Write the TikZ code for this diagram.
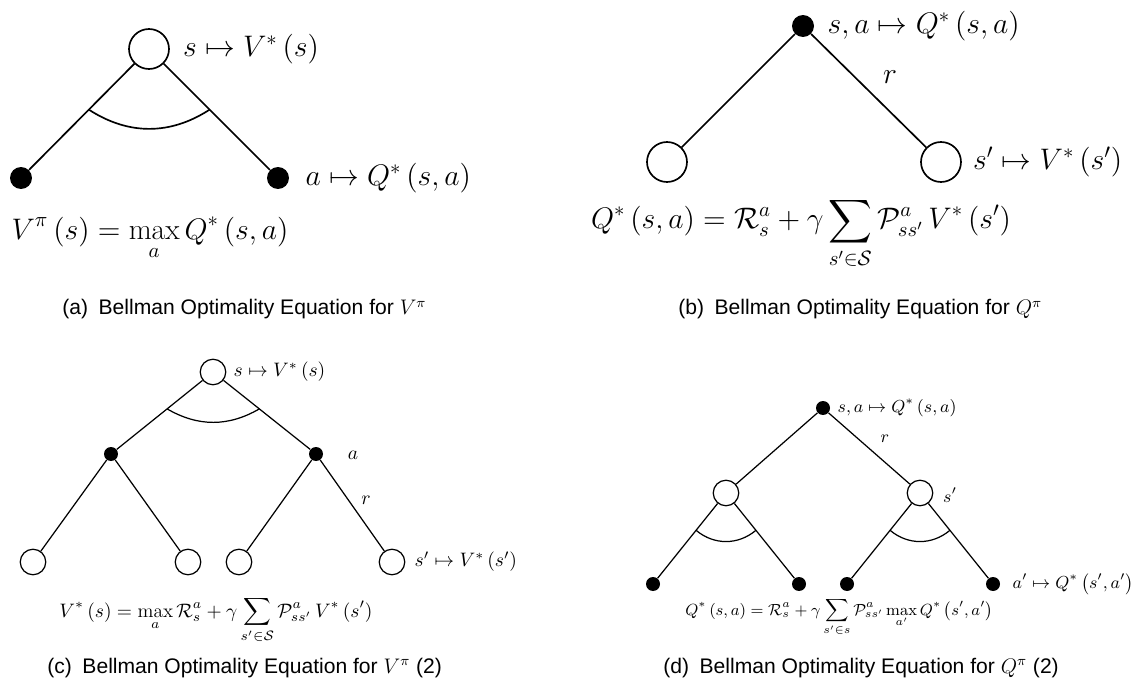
\documentclass[tikz,border=0pt]{standalone}
\usepackage{fix-cm}
\usepackage{amsmath}
\usepackage{fontspec}
\usepackage{tikz}
\usetikzlibrary{positioning, calc}
\newfontfamily\capfont{Liberation Sans}

\begin{document}
\begin{tikzpicture}[
        x=0.02cm, y=-0.02cm,
        every node/.style={
            inner sep=0pt
        },
        grande/.style={
            font=\fontsize{16.9}{20}\selectfont
        },
        pequeno/.style={
            font=\fontsize{11.1}{13}\selectfont
        },
        menor/.style={
            font=\fontsize{9.9}{12}\selectfont
        },
        vgrande/.style={
            circle,
            draw,
            fill=white,
            line width=0.95pt,
            minimum size=0.8cm
        },
        qgrande/.style={
            circle,
            fill=black,
            minimum size=0.44cm
        },
        vpequeno/.style={
            circle,
            draw,
            fill=white,
            line width=0.7pt,
            minimum size=0.51cm
        },
        qpequeno/.style={
            circle,
            fill=black,
            minimum size=0.28cm
        },
        linhag/.style={
            line width=0.95pt
        },
        linhap/.style={
            line width=0.7pt
        },
        legenda/.style={
            anchor=base west,
            font=\capfont\fontsize{12}{14}\selectfont
        }
    ]

    \useasboundingbox (0,0) rectangle (1137,679);

    % (a)
    \node[vgrande] (a0) at (149,49) {};
    \node[qgrande] (a1) at (21,178) {};
    \node[qgrande] (a2) at (278,178) {};

    \node[grande, right=0.26cm of a0] (la0) {$s \mapsto V^*\left(s\right)$};
    \node[grande, right=0.32cm of a2] (la2) {$a \mapsto Q^*\left(s,a\right)$};

    \node[grande, anchor=base] (eqa) at (150,239) {$\displaystyle V^\pi\left(s\right) = \max_a Q^*\left(s,a\right)$};

    \node[legenda] (capa) at (62,315) {(a)\enspace Bellman Optimality Equation for $V^\pi$};

    \draw[linhag] (a0) -- (a1);
    \draw[linhag] (a0) -- (a2);
    \draw[linhag] ($(a0)!0.47!(a1)$) to[bend right=33] ($(a0)!0.47!(a2)$);

    % (b)
    \node[qgrande] (b0) at (803,26) {};
    \node[vgrande] (b1) at (667,162) {};
    \node[vgrande] (b2) at (941,162) {};

    \node[grande, right=0.26cm of b0] (lb0) {$s, a \mapsto Q^*\left(s,a\right)$};
    \node[grande, right=0.22cm of b2] (lb2) {$s' \mapsto V^*\left(s'\right)$};
    \node[grande] (rb) at (890,77) {$r$};

    \node[grande, anchor=base] (eqb) at (801,229) {$\displaystyle Q^*\left(s,a\right) = \mathcal{R}^a_s + \gamma \sum_{s'\in\mathcal{S}} \mathcal{P}^a_{ss'}\, V^*\left(s'\right)$};

    \node[legenda] (capb) at (678,315) {(b)\enspace Bellman Optimality Equation for $Q^\pi$};

    \draw[linhag] (b0) -- (b1);
    \draw[linhag] (b0) -- (b2);

    % (c)
    \node[vpequeno] (c0) at (213,372) {};
    \node[qpequeno] (c1) at (111,454) {};
    \node[qpequeno] (c2) at (316,454) {};
    \node[vpequeno] (c3) at (33,562) {};
    \node[vpequeno] (c4) at (188,562) {};
    \node[vpequeno] (c5) at (239,562) {};
    \node[vpequeno] (c6) at (392,562) {};

    \node[pequeno, right=0.14cm of c0] (lc0) {$s \mapsto V^*\left(s\right)$};
    \node[pequeno, right=0.18cm of c6] (lc6) {$s' \mapsto V^*\left(s'\right)$};
    \node[pequeno] (ac) at (353,455) {$a$};
    \node[pequeno] (rc) at (366,500) {$r$};

    \node[pequeno, anchor=base] (eqc) at (216,617) {$\displaystyle V^*\left(s\right) = \max_a \mathcal{R}^a_s + \gamma \sum_{s'\in\mathcal{S}} \mathcal{P}^a_{ss'}\, V^*\left(s'\right)$};

    \node[legenda] (capc) at (47,673) {(c)\enspace Bellman Optimality Equation for $V^\pi$ (2)};

    \draw[linhap] (c0) -- (c1);
    \draw[linhap] (c0) -- (c2);
    \draw[linhap] (c1) -- (c3);
    \draw[linhap] (c1) -- (c4);
    \draw[linhap] (c2) -- (c5);
    \draw[linhap] (c2) -- (c6);
    \draw[linhap] ($(c0)!0.45!(c1)$) to[bend right=30] ($(c0)!0.45!(c2)$);

    % (d)
    \node[qpequeno] (d0) at (823,408) {};
    \node[vpequeno] (d1) at (726,493) {};
    \node[vpequeno] (d2) at (920,493) {};
    \node[qpequeno] (d3) at (653,584) {};
    \node[qpequeno] (d4) at (799,584) {};
    \node[qpequeno] (d5) at (847,584) {};
    \node[qpequeno] (d6) at (993,584) {};

    \node[menor, right=0.14cm of d0] (ld0) {$s, a \mapsto Q^*\left(s,a\right)$};
    \node[menor, right=0.24cm of d6] (ld6) {$a' \mapsto Q^*\left(s',a'\right)$};
    \node[menor] (rd) at (885,439) {$r$};
    \node[menor] (sd) at (950,495) {$s'$};

    \node[anchor=base, font=\fontsize{9.2}{11}\selectfont] (eqd) at (839,615) {$\displaystyle Q^*\left(s,a\right) = \mathcal{R}^a_s + \gamma \sum_{s'\in s} \mathcal{P}^a_{ss'} \max_{a'} Q^*\left(s',a'\right)$};

    \node[legenda] (capd) at (663,673) {(d)\enspace Bellman Optimality Equation for $Q^\pi$ (2)};

    \draw[linhap] (d0) -- (d1);
    \draw[linhap] (d0) -- (d2);
    \draw[linhap] (d1) -- (d3);
    \draw[linhap] (d1) -- (d4);
    \draw[linhap] (d2) -- (d5);
    \draw[linhap] (d2) -- (d6);
    \draw[linhap] ($(d1)!0.41!(d3)$) to[bend right=40] ($(d1)!0.41!(d4)$);
    \draw[linhap] ($(d2)!0.41!(d5)$) to[bend right=40] ($(d2)!0.41!(d6)$);

\end{tikzpicture}
\end{document}
